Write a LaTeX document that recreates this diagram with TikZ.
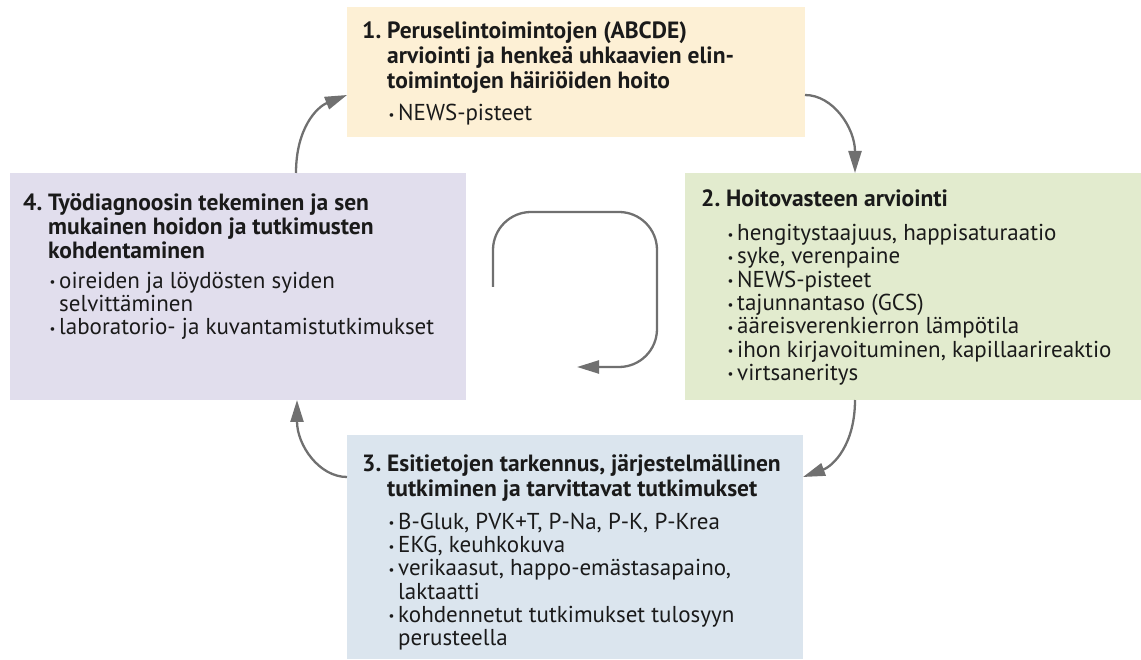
\documentclass[tikz,border=0pt]{standalone}
\usepackage{fontspec}
\setmainfont{PT Sans}
\usetikzlibrary{arrows.meta}
\definecolor{cOne}{HTML}{FDF0D5}
\definecolor{cTwo}{HTML}{E2EBCE}
\definecolor{cThree}{HTML}{DBE5EE}
\definecolor{cFour}{HTML}{E1DEED}
\definecolor{arrgray}{HTML}{707070}
\definecolor{txt}{HTML}{1A1A1A}
\newcommand{\hdfont}{\fontsize{23.5}{23.3}\selectfont\bfseries}
\newcommand{\Tl}[2]{\makebox[25pt][l]{\hdfont #1}&\multicolumn{2}{@{}l@{}}{\hdfont #2}}
\newcommand{\Tc}[1]{&\multicolumn{2}{@{}l@{}}{\hdfont #1}}
\newcommand{\Bl}[1]{&\makebox[11pt][l]{\hspace{1.5pt}\raisebox{1.5pt}{\fontsize{13}{13}\selectfont •}}&#1}
\newcommand{\Bc}[1]{&&#1}
\tikzset{
  box/.style={rectangle, draw=none, inner sep=0pt, outer sep=0pt},
  txtblock/.style={anchor=base west, inner sep=0pt, text=txt, font=\fontsize{23}{23.2}\selectfont},
  arr/.style={draw=arrgray, line width=2.3pt, -{Triangle[length=22pt,width=13pt]}},
}
\begin{document}
\begin{tikzpicture}[x=1pt,y=1pt]
\useasboundingbox (0,0) rectangle (1141,659);
% boxes
\node[box, fill=cOne, minimum width=458pt, minimum height=130pt] (b1) at (576,587) {};
\node[box, fill=cTwo, minimum width=456pt, minimum height=227pt] (b2) at (913,372.5) {};
\node[box, fill=cThree, minimum width=456pt, minimum height=224pt] (b3) at (575,112) {};
\node[box, fill=cFour, minimum width=456pt, minimum height=227pt] (b4) at (238,372.5) {};
% texts
\node[txtblock] (t1) at (362,620) {\begin{tabular}[t]{@{}l@{}l@{}l@{}}
\Tl{1.}{Peruselintoimintojen (ABCDE)}\\[1pt]
\Tc{arviointi ja henkeä uhkaavien elin-}\\[1pt]
\Tc{toimintojen häiriöiden hoito}\\[8.5pt]
\Bl{NEWS-pisteet}
\end{tabular}};
\node[txtblock] (t2) at (701,452) {\begin{tabular}[t]{@{}l@{}l@{}l@{}}
\Tl{2.}{Hoitovasteen arviointi}\\[10.5pt]
\Bl{hengitystaajuus, happisaturaatio}\\
\Bl{syke, verenpaine}\\
\Bl{NEWS-pisteet}\\
\Bl{tajunnantaso (GCS)}\\
\Bl{ääreisverenkierron lämpötila}\\
\Bl{ihon kirjavoituminen, kapillaarireaktio}\\
\Bl{virtsaneritys}
\end{tabular}};
\node[txtblock] (t3) at (362,187) {\begin{tabular}[t]{@{}l@{}l@{}l@{}}
\Tl{3.}{Esitietojen tarkennus, järjestelmällinen}\\[0.8pt]
\Tc{tutkiminen ja tarvittavat tutkimukset}\\[9.5pt]
\Bl{B-Gluk, PVK+T, P-Na, P-K, P-Krea}\\
\Bl{EKG, keuhkokuva}\\
\Bl{verikaasut, happo-emästasapaino,}\\
\Bc{laktaatti}\\
\Bl{kohdennetut tutkimukset tulosyyn}\\
\Bc{perusteella}
\end{tabular}};
\node[txtblock] (t4) at (23,448.5) {\begin{tabular}[t]{@{}l@{}l@{}l@{}}
\Tl{4.}{Työdiagnoosin tekeminen ja sen}\\[0.3pt]
\Tc{mukainen hoidon ja tutkimusten}\\[0.3pt]
\Tc{kohdentaminen}\\[6.5pt]
\Bl{oireiden ja löydösten syiden}\\
\Bc{selvittäminen}\\
\Bl{laboratorio- ja kuvantamistutkimukset}
\end{tabular}};
% connectors
\draw[arr] ([yshift=-23pt]b1.east) .. controls +(28,0) and +(0,45) .. ([xshift=-58pt]b2.north);
\draw[arr] ([xshift=-58pt]b2.south) .. controls +(0,-45) and +(30,11) .. ([yshift=70pt]b3.east);
\draw[arr] ([yshift=70pt]b3.west) .. controls +(-28,0) and +(0,-45) .. ([xshift=59pt]b4.south);
\draw[arr] ([xshift=58pt]b4.north) .. controls +(0,45) and +(-30,-12) .. ([yshift=-23pt]b1.west);
% central loop
\coordinate (l0) at (493,372);
\coordinate (l1) at (493,447);
\coordinate (l2) at (657,447);
\coordinate (l3) at (657,292);
\coordinate (l4) at (577,292);
\draw[arr, rounded corners=38pt] (l0) -- (l1) -- (l2) -- (l3) -- (l4);
\end{tikzpicture}
\end{document}
